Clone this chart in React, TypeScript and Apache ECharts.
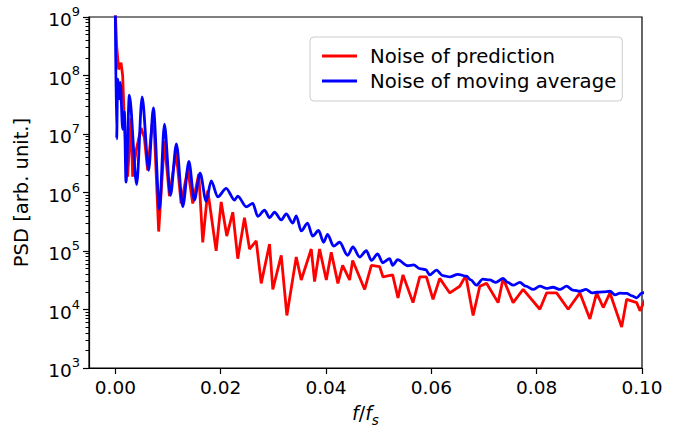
import React, { useEffect, useRef } from "react";
import * as echarts from "echarts";

const redFreq = [0, 0.00025, 0.00063, 0.00108, 0.00139, 0.00171, 0.00234, 0.00298, 0.00329, 0.00394, 0.00489, 0.00551, 0.00614, 0.00698, 0.00741, 0.00823, 0.00932, 0.01027, 0.01154, 0.01249, 0.01375, 0.0147, 0.01584, 0.0166, 0.01755, 0.01914, 0.0201, 0.02116, 0.0223, 0.02325, 0.02452, 0.02548, 0.02675, 0.0277, 0.02928, 0.0299, 0.0315, 0.03257, 0.03435, 0.0353, 0.0372, 0.03783, 0.03878, 0.04006, 0.041, 0.04226, 0.04316, 0.04449, 0.04506, 0.04734, 0.04861, 0.05019, 0.05082, 0.05266, 0.05367, 0.05462, 0.05652, 0.0578, 0.05907, 0.06032, 0.0616, 0.0635, 0.0654, 0.06654, 0.06793, 0.0692, 0.07048, 0.07268, 0.07363, 0.07553, 0.07743, 0.08061, 0.08188, 0.08378, 0.08599, 0.08821, 0.09011, 0.09139, 0.09264, 0.09392, 0.09614, 0.09709, 0.09899, 0.09962, 0.1006];
const redPsd = [1.2e9, 3.2e8, 1.27e8, 1.65e8, 1.0e8, 1.65e7, 1.87e6, 1.87e7, 1.87e6, 5.2e6, 1.27e7, 8.7e6, 2.4e6, 1.47e7, 1.08e7, 2.15e5, 7.6e6, 8.7e5, 5.0e6, 6.5e5, 2.5e6, 6.5e5, 2.07e6, 1.4e5, 1.08e6, 1.01e5, 6.9e5, 1.8e5, 4.6e5, 7.4e4, 3.7e5, 1.08e5, 1.49e5, 2.8e4, 1.31e5, 2.2e4, 8.4e4, 7.9e3, 7.9e4, 3.2e4, 1.08e5, 3.0e4, 1.08e5, 3.2e4, 9.5e4, 2.8e4, 5.7e4, 3.2e4, 6.9e4, 2.2e4, 5.7e4, 5.4e4, 3.6e4, 3.9e4, 1.58e4, 3.9e4, 1.31e4, 3.6e4, 3.6e4, 1.49e4, 3.4e4, 1.92e4, 2.5e4, 3.8e4, 7.9e3, 2.5e4, 2.8e4, 1.31e4, 3.4e4, 1.31e4, 2.2e4, 1.01e4, 1.92e4, 1.92e4, 1.01e4, 1.92e4, 6.9e3, 1.92e4, 1.08e4, 1.92e4, 5.0e3, 1.49e4, 1.31e4, 9.5e3, 1.49e4];

const blueFreq = [0, 0.00025, 0.00044, 0.00076, 0.00095, 0.00139, 0.00171, 0.00203, 0.00266, 0.00405, 0.00508, 0.00633, 0.00722, 0.00837, 0.00932, 0.01046, 0.0116, 0.0128, 0.01397, 0.015, 0.0161, 0.01724, 0.0182, 0.01945, 0.02105, 0.02262, 0.02325, 0.02485, 0.0261, 0.02705, 0.02833, 0.02928, 0.03023, 0.0315, 0.03245, 0.03371, 0.03435, 0.0353, 0.0365, 0.03745, 0.0386, 0.03954, 0.0403, 0.04144, 0.04259, 0.0441, 0.04511, 0.04639, 0.04766, 0.04861, 0.04981, 0.05076, 0.05209, 0.05266, 0.05361, 0.05551, 0.05665, 0.0578, 0.05894, 0.0597, 0.06097, 0.06217, 0.0635, 0.06502, 0.06667, 0.06749, 0.06857, 0.06977, 0.0711, 0.07224, 0.07363, 0.07452, 0.07553, 0.07681, 0.07795, 0.07934, 0.08061, 0.08188, 0.08308, 0.08441, 0.08568, 0.08688, 0.08821, 0.08935, 0.0905, 0.09139, 0.09259, 0.09392, 0.09487, 0.09582, 0.09709, 0.0981, 0.09899, 0.09994, 0.1006];
const bluePsd = [1.2e9, 8.3e6, 8.7e7, 4.0e7, 7.6e7, 1.2e7, 2.4e7, 1.5e6, 4.6e7, 1.36e6, 4.3e7, 2.4e6, 2.8e7, 5.2e5, 1.47e7, 8.9e5, 6.8e6, 5.7e5, 3.4e6, 7.4e5, 2.15e6, 7.1e5, 1.58e6, 8.4e5, 1.18e6, 7.4e5, 8.7e5, 5.7e5, 6.5e5, 3.9e5, 5.0e5, 3.7e5, 4.6e5, 3.4e5, 4.3e5, 3.0e5, 4.0e5, 2.2e5, 3.0e5, 1.8e5, 2.24e5, 1.41e5, 1.92e5, 1.21e5, 1.41e5, 8.4e4, 1.17e5, 7.9e4, 1.01e5, 6.9e4, 8.9e4, 6.3e4, 7.4e4, 5.7e4, 7.1e4, 5.6e4, 5.8e4, 5.0e4, 4.8e4, 3.9e4, 4.7e4, 3.8e4, 3.6e4, 4.0e4, 3.7e4, 3.2e4, 2.6e4, 3.3e4, 3.2e4, 2.9e4, 3.4e4, 2.9e4, 2.6e4, 2.9e4, 2.5e4, 2.2e4, 2.5e4, 2.3e4, 2.4e4, 2.2e4, 2.5e4, 2.15e4, 2.05e4, 2.2e4, 1.92e4, 1.97e4, 2.0e4, 2.05e4, 1.78e4, 1.9e4, 1.88e4, 1.71e4, 1.58e4, 1.9e4, 2.0e4];

const xTicks = [0, 0.02, 0.04, 0.06, 0.08, 0.1];
const yMajorTicks = [1e3, 1e4, 1e5, 1e6, 1e7, 1e8, 1e9];
const yMinorTicks: number[] = [];
for (let e = 3; e < 9; e++) {
  for (let m = 2; m <= 9; m++) yMinorTicks.push(m * Math.pow(10, e));
}

const seriesNames = ["Noise of prediction", "Noise of moving average"];
const FONT = "DejaVu Sans";

export default function App() {
  const ref = useRef<HTMLDivElement>(null);
  useEffect(() => {
    if (!ref.current) return;
    const chart = echarts.init(ref.current, undefined, { renderer: "svg" });
    const pairs = (fs: number[], vs: number[]) => fs.map((f, i) => [f, vs[i]]);
    const option: any = {
      animation: false,
      backgroundColor: "#fff",
      grid: {
        left: 89,
        right: 39,
        top: 17,
        bottom: 55,
        show: true,
        borderColor: "#000",
        borderWidth: 1.2,
        backgroundColor: "transparent",
      },
      legend: {
        data: seriesNames,
        orient: "vertical",
        left: 310,
        top: 37,
        padding: [9, 6, 10, 12],
        icon: "rect",
        itemWidth: 35,
        itemHeight: 2.8,
        itemGap: 5,
        borderColor: "#cccccc",
        borderWidth: 1,
        borderRadius: 4,
        backgroundColor: "rgba(255,255,255,0.8)",
        textStyle: {
          fontFamily: FONT,
          fontSize: 19.7,
          color: "#000",
          lineHeight: 19,
          padding: [0, 0, 0, 8],
        },
      },
      xAxis: {
        type: "value",
        min: -0.005,
        max: 0.1,
        splitLine: { show: false },
        axisLine: { onZero: false, lineStyle: { color: "#000", width: 1.2 } },
        axisTick: {
          customValues: xTicks,
          length: 6,
          lineStyle: { color: "#000", width: 1.2 },
        },
        axisLabel: {
          customValues: xTicks,
          formatter: (v: number) => v.toFixed(2),
          fontFamily: FONT,
          fontSize: 18.5,
          color: "#000",
          margin: 10,
        },
        name: "{i|f}{n|/}{i|f}{sub|s}",
        nameLocation: "middle",
        nameGap: 35,
        nameTextStyle: {
          color: "#000",
          fontFamily: FONT,
          rich: {
            i: { fontFamily: FONT, fontStyle: "italic", fontSize: 19, color: "#000", lineHeight: 24, verticalAlign: "top" },
            n: { fontFamily: FONT, fontSize: 19, color: "#000", lineHeight: 24, verticalAlign: "top" },
            sub: { fontFamily: FONT, fontStyle: "italic", fontSize: 13.5, color: "#000", lineHeight: 14, verticalAlign: "bottom" },
          },
        },
      },
      yAxis: [
        {
          type: "log",
          logBase: 10,
          min: 1e3,
          max: 1e9,
          splitLine: { show: false },
          axisLine: { show: true, onZero: false, lineStyle: { color: "#000", width: 1.2 } },
          axisTick: {
            customValues: yMajorTicks,
            length: 6,
            lineStyle: { color: "#000", width: 1.2 },
          },
          axisLabel: {
            customValues: yMajorTicks,
            formatter: (v: number) => `{b|10}{s|${Math.round(Math.log10(v))}}`,
            margin: 9,
            rich: {
              b: { fontFamily: FONT, fontSize: 18.5, color: "#000", lineHeight: 24, verticalAlign: "bottom" },
              s: { fontFamily: FONT, fontSize: 13, color: "#000", lineHeight: 14, verticalAlign: "top" },
            },
          },
          name: "PSD [arb. unit.]",
          nameLocation: "middle",
          nameGap: 58,
          nameTextStyle: { fontFamily: FONT, fontSize: 19.5, color: "#000" },
        },
        {
          type: "log",
          logBase: 10,
          min: 1e3,
          max: 1e9,
          position: "left",
          splitLine: { show: false },
          axisLine: { show: false, onZero: false },
          axisLabel: { show: false },
          axisTick: {
            show: true,
            customValues: yMinorTicks,
            length: 3.5,
            lineStyle: { color: "#000", width: 1 },
          },
        },
      ],
      series: [
        {
          name: seriesNames[0],
          type: "line",
          data: pairs(redFreq, redPsd),
          symbol: "none",
          clip: true,
          color: "#ff0000",
          lineStyle: { color: "#ff0000", width: 2.8 },
          z: 2,
        },
        {
          name: seriesNames[1],
          type: "line",
          data: pairs(blueFreq, bluePsd),
          symbol: "none",
          clip: true,
          smooth: 0.3,
          smoothMonotone: "x",
          color: "#0000ff",
          lineStyle: { color: "#0000ff", width: 2.8 },
          z: 3,
        },
      ],
    };
    chart.setOption(option);
    return () => chart.dispose();
  }, []);
  return (
    <div
      ref={ref}
      style={{ position: "fixed", left: 0, top: 0, width: 681, height: 432, background: "#fff" }}
    />
  );
}
